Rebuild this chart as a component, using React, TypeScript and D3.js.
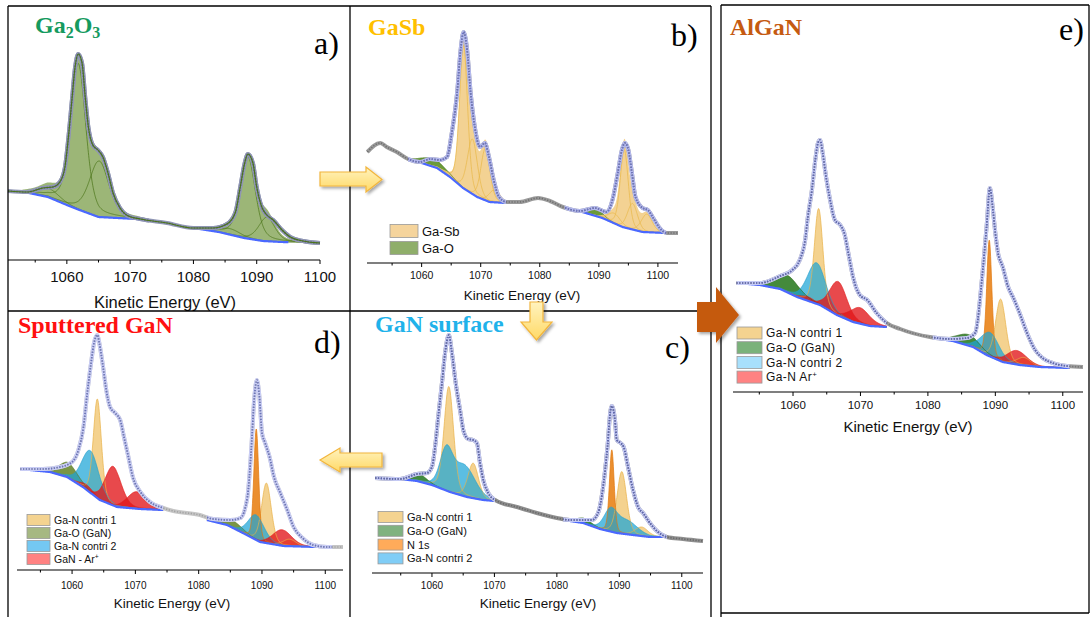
import React from "react";
import * as d3 from "d3";

type Pt = [number, number];
type Peak = { g: string; c: number; h: number; w: number };

// ---------------- shared axis data ----------------
const MAJOR_TICKS = [1060, 1070, 1080, 1090, 1100];
const MINOR_TICKS = [1055, 1065, 1075, 1085, 1095];
const AXIS_TITLE = "Kinetic Energy (eV)";

// ---------------- panel a : Ga2O3 ----------------
const A_DATA: Pt[] = [
  [1050.7, 69], [1053.7, 68], [1056.2, 72], [1057.8, 73], [1058.9, 78], [1059.7, 93], [1060.2, 120],
  [1060.8, 160], [1061.3, 193], [1061.8, 206], [1062.4, 197], [1062.9, 163], [1063.4, 133], [1064.1, 115],
  [1064.9, 110], [1065.7, 103], [1066.5, 87], [1067.3, 67], [1068.4, 52], [1069.7, 44], [1071.6, 41],
  [1075.8, 37], [1080, 32], [1083.1, 32], [1085.3, 36], [1086.6, 47], [1087.4, 73], [1088.1, 97],
  [1088.6, 106], [1089.4, 97], [1090, 73], [1090.8, 53], [1091.6, 45], [1092.6, 40], [1094, 30],
  [1095.3, 23], [1097.3, 19], [1100, 17],
];
const A_BG: Pt[] = [
  [1050.7, 69], [1054, 67], [1057, 63], [1060, 55], [1062, 50], [1065, 43], [1068, 42], [1071, 41],
  [1075, 37], [1080, 32], [1084, 28], [1088, 22], [1091, 19], [1094, 18], [1100, 17],
];
const A_PEAKS: Peak[] = [
  { g: "GaO", c: 1057.2, h: 9, w: 4 },
  { g: "GaO", c: 1061.8, h: 146, w: 2.8 },
  { g: "GaO", c: 1065.1, h: 56, w: 3.6 },
  { g: "GaO", c: 1085.8, h: 6, w: 4 },
  { g: "GaO", c: 1088.6, h: 82, w: 2.8 },
  { g: "GaO", c: 1091.6, h: 24, w: 3 },
];
const A_RANGES: Pt[] = [[1053, 1073], [1080, 1100]];

// ---------------- panel b : GaSb ----------------
const B_DATA: Pt[] = [
  [1050.8, 111], [1053, 120], [1054.1, 116], [1055.8, 111], [1057.7, 104], [1059.7, 101], [1061.4, 104],
  [1063.1, 103], [1064.3, 106], [1065.1, 130], [1066, 170], [1066.6, 213], [1067.1, 231], [1067.7, 213],
  [1068.3, 170], [1069, 136], [1069.9, 116], [1070.7, 120], [1071.4, 106], [1072.2, 83], [1073.1, 66],
  [1074.4, 61], [1076.6, 61], [1079.7, 65], [1081.7, 62], [1083.9, 56], [1086.8, 52], [1089.3, 55],
  [1091.3, 51], [1092.3, 63], [1093.2, 90], [1093.9, 113], [1094.4, 120], [1095, 113], [1095.6, 90],
  [1096.2, 66], [1097.4, 55], [1098.3, 53], [1099.1, 46], [1100.3, 35], [1101.5, 30], [1103.4, 30],
];
const B_BG: Pt[] = [
  [1057.7, 103], [1060, 100], [1062.6, 95], [1064.8, 86], [1067, 75], [1069.4, 66], [1071.5, 61],
  [1074.3, 60], [1084.2, 55], [1087.2, 51], [1090.6, 45], [1094, 36], [1097.4, 31], [1101.4, 30],
];
const B_PEAKS: Peak[] = [
  { g: "GaO", c: 1062, h: 8, w: 5 },
  { g: "GaO", c: 1089.3, h: 8, w: 3 },
  { g: "GaSb", c: 1067.1, h: 143, w: 1.6 },
  { g: "GaSb", c: 1068.6, h: 55, w: 2 },
  { g: "GaSb", c: 1070.8, h: 52, w: 1.8 },
  { g: "GaSb", c: 1072.2, h: 12, w: 2 },
  { g: "GaSb", c: 1092.6, h: 10, w: 2.5 },
  { g: "GaSb", c: 1094.3, h: 78, w: 1.6 },
  { g: "GaSb", c: 1095.7, h: 26, w: 2 },
  { g: "GaSb", c: 1098.1, h: 18, w: 2.2 },
];
const B_RANGES: Pt[] = [[1057.7, 1074.3], [1084.2, 1101.4]];
const B_LEGEND = ["Ga-Sb", "Ga-O"];

// ---------------- panel c : GaN surface ----------------
const C_DATA: Pt[] = [
  [1050.9, 95], [1054.9, 94], [1057.6, 99], [1059.2, 100], [1060, 106], [1060.5, 126], [1061, 156],
  [1061.6, 190], [1062.1, 220], [1062.7, 238], [1063.2, 220], [1063.8, 190], [1064.5, 163], [1065.1, 141],
  [1065.8, 134], [1066.6, 133], [1067.2, 130], [1067.7, 110], [1068.3, 91], [1069, 80], [1070.1, 73],
  [1073.6, 66], [1076.8, 60], [1080, 55], [1082.1, 53], [1084.2, 53], [1085.6, 53], [1086.6, 60],
  [1087.4, 86], [1088.1, 126], [1088.6, 163], [1088.8, 167], [1089.3, 153], [1089.6, 133], [1090.2, 130],
  [1090.7, 126], [1091.4, 106], [1092.2, 83], [1093, 66], [1093.8, 60], [1094.9, 50], [1096.2, 41],
  [1097.6, 36], [1100.2, 34], [1103.4, 32],
];
const C_BG: Pt[] = [
  [1050.9, 95], [1054.9, 94], [1057.6, 92], [1060, 88], [1062.9, 81], [1065.6, 76], [1068.2, 73],
  [1070.1, 72], [1081, 53], [1084.2, 50], [1086.9, 44], [1089.6, 40], [1092.2, 38], [1094.9, 36], [1097.6, 36],
];
const C_PEAKS: Peak[] = [
  { g: "GaN1", c: 1062.7, h: 105, w: 1.8 },
  { g: "GaN1", c: 1066.6, h: 35, w: 2 },
  { g: "GaN1", c: 1090.4, h: 62, w: 1.8 },
  { g: "GaN1", c: 1093.6, h: 9, w: 2.5 },
  { g: "GaO", c: 1057.8, h: 8, w: 3 },
  { g: "GaO", c: 1084.3, h: 5, w: 3 },
  { g: "N1s", c: 1088.8, h: 82, w: 0.9 },
  { g: "GaN2", c: 1062.3, h: 38, w: 2.4 },
  { g: "GaN2", c: 1065.2, h: 30, w: 4 },
  { g: "GaN2", c: 1088.6, h: 20, w: 2.5 },
  { g: "GaN2", c: 1091.2, h: 13, w: 4 },
];
const C_RANGES: Pt[] = [[1050.9, 1070.1], [1081, 1097.6]];
const C_LEGEND = ["Ga-N contri 1", "Ga-O (GaN)", "N 1s", "Ga-N contri 2"];

// ---------------- panel d : Sputtered GaN ----------------
const D_DATA: Pt[] = [
  [1051.8, 101], [1055.4, 101], [1058.1, 103], [1060, 108], [1061, 120], [1061.8, 143], [1062.4, 177],
  [1063, 207], [1063.5, 228], [1064, 235], [1064.3, 227], [1064.9, 203], [1065.4, 180], [1066, 163],
  [1066.8, 157], [1067.6, 150], [1068.2, 133], [1068.9, 113], [1069.6, 93], [1070.8, 78], [1072.3, 68],
  [1074.4, 62], [1076, 59], [1080.2, 55], [1082.3, 51], [1085, 50], [1086.6, 52], [1087.7, 73],
  [1088.3, 120], [1088.8, 173], [1089.2, 190], [1089.6, 173], [1090, 137], [1090.5, 127], [1091.2, 113],
  [1091.9, 93], [1092.9, 77], [1094, 60], [1095, 43], [1096.4, 32], [1098.1, 25], [1100.3, 23], [1102.8, 23],
];
const D_BG: Pt[] = [
  [1051.8, 101], [1056.5, 98], [1059.2, 93], [1061.7, 83], [1064.4, 70], [1067.1, 63], [1070.8, 61],
  [1074.4, 60], [1081.3, 50], [1084.5, 45], [1087.6, 35], [1089.7, 28], [1093.4, 24], [1098.7, 23], [1101.1, 23],
];
const D_PEAKS: Peak[] = [
  { g: "GaN1", c: 1064.0, h: 99, w: 1.5 },
  { g: "GaN1", c: 1090.7, h: 60, w: 1.8 },
  { g: "GaN1", c: 1094.3, h: 7, w: 2.5 },
  { g: "GaO", c: 1059.4, h: 15, w: 3.5 },
  { g: "GaO", c: 1085.5, h: 7, w: 3.5 },
  { g: "N1s", c: 1089.1, h: 111, w: 0.9 },
  { g: "GaN2", c: 1062.9, h: 42, w: 3.2 },
  { g: "GaN2", c: 1089.1, h: 25, w: 3 },
  { g: "Ar", c: 1062.3, h: 5, w: 2.5 },
  { g: "Ar", c: 1066.5, h: 39, w: 3 },
  { g: "Ar", c: 1070.2, h: 17, w: 3.5 },
  { g: "Ar", c: 1093.2, h: 16, w: 3.5 },
];
const D_RANGES: Pt[] = [[1051.8, 1074.4], [1081.3, 1101.1]];
const D_LEGEND = ["Ga-N contri 1", "Ga-O (GaN)", "Ga-N contri 2", "GaN - Ar^+"];

// ---------------- panel e : AlGaN ----------------
const E_DATA: Pt[] = [
  [1051.6, 109], [1055.1, 109], [1058.1, 116], [1059.9, 122], [1061, 132], [1061.8, 152], [1062.2, 175],
  [1062.8, 202], [1063.3, 232], [1063.7, 249], [1064, 252], [1064.4, 239], [1064.9, 215], [1065.5, 192],
  [1066.2, 172], [1067, 167], [1067.6, 159], [1068.2, 139], [1068.9, 115], [1069.9, 97], [1071, 92],
  [1072.4, 79], [1073.9, 69], [1075.9, 63], [1080.3, 55], [1083.3, 53], [1085.8, 54], [1087, 59],
  [1088.1, 119], [1088.7, 165], [1089.2, 204], [1089.6, 185], [1090, 159], [1090.4, 139], [1091.1, 125],
  [1091.9, 105], [1092.6, 95], [1093.6, 79], [1094.7, 59], [1095.9, 42], [1097, 34], [1098.5, 29],
  [1100.6, 26], [1103, 25],
];
const E_BG: Pt[] = [
  [1051.6, 109], [1055.1, 107], [1058.1, 103], [1060.6, 95], [1064, 87], [1066.5, 77], [1068.9, 70],
  [1071.4, 66], [1073.9, 65], [1080.7, 54], [1083.7, 51], [1086.7, 45], [1088.7, 37], [1091.1, 30],
  [1093.6, 27], [1096.6, 25], [1101, 24],
];
const E_PEAKS: Peak[] = [
  { g: "GaN1", c: 1063.8, h: 96, w: 1.5 },
  { g: "GaN1", c: 1090.8, h: 62, w: 1.8 },
  { g: "GaN1", c: 1094.2, h: 8, w: 2.5 },
  { g: "GaO", c: 1059.2, h: 17, w: 4 },
  { g: "GaO", c: 1086.0, h: 11, w: 4 },
  { g: "N1s", c: 1089.1, h: 116, w: 0.9 },
  { g: "GaN2", c: 1063.5, h: 41, w: 3.2 },
  { g: "GaN2", c: 1089.2, h: 24, w: 3.2 },
  { g: "Ar", c: 1062.2, h: 4, w: 2.5 },
  { g: "Ar", c: 1066.7, h: 34, w: 3 },
  { g: "Ar", c: 1069.9, h: 16, w: 3.5 },
  { g: "Ar", c: 1093.2, h: 14, w: 3.5 },
];
const E_RANGES: Pt[] = [[1051.6, 1073.9], [1080.7, 1101]];
const E_LEGEND = ["Ga-N contri 1", "Ga-O (GaN)", "Ga-N contri 2", "Ga-N Ar^+"];

// ---------------- styles & layout ----------------
const SERIF = "'Liberation Serif','Times New Roman',serif";
const SANS = "'Liberation Sans',Arial,sans-serif";

type GStyle = { fill: string; stroke: string; swatch: string };
const GOLD: GStyle = { fill: "rgba(240,193,100,0.72)", stroke: "#e9b24a", swatch: "#f4d390" };
const BLUE: GStyle = { fill: "rgba(28,165,215,0.72)", stroke: "#2aa0cc", swatch: "#80cdf6" };
const RED: GStyle = { fill: "rgba(226,22,26,0.78)", stroke: "#e0201e", swatch: "#ff8282" };
const ORANGE: GStyle = { fill: "rgba(232,128,18,0.88)", stroke: "#e07810", swatch: "#ffab5a" };

type Layout = {
  x0: number; x1: number; xDomain: Pt; axisY: number; topY: number;
  tickFont: number; tickY: number; titleFont: number; titleY: number; titleX: number;
  label: { text: string; x: number; y: number; color: string };
  letter: { text: string; x: number; y: number };
  legend?: { x: number; y0: number; dy: number; w: number; h: number; font: number; spacing: number };
};

type PanelCfg = {
  id: string; data: Pt[]; bg: Pt[]; peaks: Peak[]; ranges: Pt[]; eta: number;
  order: string[]; sumGroups: string[]; styles: Record<string, GStyle>;
  legendKeys: string[]; legendLabels: string[]; layout: Layout;
  dataBand: string; dataDash: string; fitBand: string; fitDash: string; bgRanges: Pt[];
  envelope?: string;
};

const PANELS: PanelCfg[] = [
  {
    id: "a", data: A_DATA, bg: A_BG, peaks: A_PEAKS, ranges: A_RANGES, eta: 0.4,
    order: ["GaO"], sumGroups: ["GaO"],
    styles: { GaO: { fill: "#9cb677", stroke: "#4a7418", swatch: "#9cb677" } },
    legendKeys: [], legendLabels: [],
    dataBand: "#9096b4", dataDash: "#6c7094", fitBand: "#9096b4", fitDash: "#6c7094",
    bgRanges: [[1053.5, 1071.5], [1081, 1095]], envelope: "#4a7418",
    layout: {
      x0: 8, x1: 320, xDomain: [1050.7, 1100], axisY: 260, topY: 6,
      tickFont: 15, tickY: 282, titleFont: 16.5, titleY: 308, titleX: 165,
      label: { text: "Ga2O3", x: 35, y: 33, color: "#159a5e" },
      letter: { text: "a)", x: 314, y: 54 },
    },
  },
  {
    id: "b", data: B_DATA, bg: B_BG, peaks: B_PEAKS, ranges: B_RANGES, eta: 0.25,
    order: ["GaO", "GaSb"], sumGroups: ["GaSb"],
    styles: {
      GaSb: { fill: "rgba(242,205,135,0.9)", stroke: "#e9b849", swatch: "#f5d49c" },
      GaO: { fill: "#6b9a3a", stroke: "#4a7a1c", swatch: "#8fae6a" },
    },
    legendKeys: ["GaSb", "GaO"], legendLabels: B_LEGEND,
    dataBand: "#9a9a9a", dataDash: "#707070", fitBand: "#b4b9ee", fitDash: "#6c74c4",
    bgRanges: B_RANGES,
    layout: {
      x0: 367, x1: 678, xDomain: [1050.75, 1103.4], axisY: 263, topY: 6,
      tickFont: 10.5, tickY: 279, titleFont: 13.5, titleY: 300, titleX: 522,
      label: { text: "GaSb", x: 368, y: 35, color: "#ffc000" },
      letter: { text: "b)", x: 671, y: 46 },
      legend: { x: 390, y0: 231, dy: 17, w: 28, h: 13, font: 13, spacing: 0 },
    },
  },
  {
    id: "c", data: C_DATA, bg: C_BG, peaks: C_PEAKS, ranges: C_RANGES, eta: 0.25,
    order: ["GaN1", "GaO", "N1s", "GaN2"], sumGroups: ["GaN2"],
    styles: {
      GaN1: GOLD, GaO: { fill: "rgba(40,122,38,0.88)", stroke: "#2f6e20", swatch: "#80b280" },
      N1s: ORANGE, GaN2: BLUE,
    },
    legendKeys: ["GaN1", "GaO", "N1s", "GaN2"], legendLabels: C_LEGEND,
    dataBand: "#8e8e8e", dataDash: "#6a6a6a", fitBand: "#c4c9f4", fitDash: "#5d67b4",
    bgRanges: C_RANGES,
    layout: {
      x0: 372, x1: 703, xDomain: [1050.4, 1103.4], axisY: 573, topY: 312,
      tickFont: 10, tickY: 589, titleFont: 13.5, titleY: 608, titleX: 538,
      label: { text: "GaN surface", x: 375, y: 332, color: "#1fb2ea" },
      letter: { text: "c)", x: 665, y: 358 },
      legend: { x: 378, y0: 517, dy: 13.8, w: 25, h: 11, font: 11, spacing: 0 },
    },
  },
  {
    id: "d", data: D_DATA, bg: D_BG, peaks: D_PEAKS, ranges: D_RANGES, eta: 0.25,
    order: ["GaN1", "GaO", "N1s", "GaN2", "Ar"], sumGroups: [],
    styles: {
      GaN1: GOLD, GaO: { fill: "rgba(104,134,44,0.88)", stroke: "#5a7a26", swatch: "#a6b882" },
      N1s: ORANGE, GaN2: { ...BLUE, swatch: "#74c8f2" }, Ar: RED,
    },
    legendKeys: ["GaN1", "GaO", "GaN2", "Ar"], legendLabels: D_LEGEND,
    dataBand: "#c6c6c6", dataDash: "#a4a4a4", fitBand: "#c9cdf5", fitDash: "#6a74bc",
    bgRanges: D_RANGES,
    layout: {
      x0: 17, x1: 343, xDomain: [1051.3, 1102.8], axisY: 570, topY: 311,
      tickFont: 10, tickY: 589, titleFont: 13.5, titleY: 608, titleX: 172,
      label: { text: "Sputtered GaN", x: 18, y: 333, color: "#ff1010" },
      letter: { text: "d)", x: 314, y: 353 },
      legend: { x: 27, y0: 520, dy: 13, w: 23, h: 11, font: 10.5, spacing: 0 },
    },
  },
  {
    id: "e", data: E_DATA, bg: E_BG, peaks: E_PEAKS, ranges: E_RANGES, eta: 0.25,
    order: ["GaN1", "GaO", "N1s", "GaN2", "Ar"], sumGroups: [],
    styles: {
      GaN1: GOLD, GaO: { fill: "rgba(42,122,32,0.88)", stroke: "#2e6a1c", swatch: "#7ab27a" },
      N1s: ORANGE, GaN2: { ...BLUE, swatch: "#a8e0fc" }, Ar: RED,
    },
    legendKeys: ["GaN1", "GaO", "GaN2", "Ar"], legendLabels: E_LEGEND,
    dataBand: "#9c9c9c", dataDash: "#777777", fitBand: "#c6cbf5", fitDash: "#5d67b4",
    bgRanges: E_RANGES,
    layout: {
      x0: 733, x1: 1083, xDomain: [1051.1, 1103], axisY: 392, topY: 6,
      tickFont: 11.5, tickY: 409, titleFont: 15, titleY: 432, titleX: 908,
      label: { text: "AlGaN", x: 730, y: 35, color: "#c55a11" },
      letter: { text: "e)", x: 1059, y: 40 },
      legend: { x: 737, y0: 333, dy: 14.7, w: 25, h: 12, font: 12, spacing: 0.4 },
    },
  },
];

// ---------------- rendering ----------------
function Title({ text, x, y, color }: { text: string; x: number; y: number; color: string }) {
  const parts = text.match(/[0-9]+|[^0-9]+/g) || [text];
  return (
    <text x={x} y={y} fill={color} fontFamily={SERIF} fontWeight="bold" fontSize={24}>
      {parts.map((p, i) =>
        /^[0-9]+$/.test(p) ? (
          <tspan key={i} fontSize={16} dy={5}>{p}</tspan>
        ) : (
          <tspan key={i} dy={i > 0 ? -5 : 0}>{p}</tspan>
        )
      )}
    </text>
  );
}

function Panel({ cfg }: { cfg: PanelCfg }) {
  const L = cfg.layout;
  const xs = d3.scaleLinear().domain(L.xDomain).range([L.x0, L.x1]);
  const ys = d3.scaleLinear().domain([0, L.axisY - L.topY]).range([L.axisY, L.topY]);
  const bgf = d3.scaleLinear().domain(cfg.bg.map((d) => d[0])).range(cfg.bg.map((d) => d[1]));
  const eta = cfg.eta;
  const pv = (e: number, p: Peak) => {
    const u = ((e - p.c) / p.w) ** 2;
    return p.h * (eta / (1 + 4 * u) + (1 - eta) * Math.exp(-4 * Math.LN2 * u));
  };
  const rangeOf = (c: number) => cfg.ranges.find((r) => c >= r[0] && c <= r[1]) || cfg.ranges[0];
  const grid = (r: Pt) => {
    const s = d3.range(r[0], r[1], 0.05);
    s.push(r[1]);
    return s;
  };
  const areaPath = (r: Pt, f: (e: number) => number) =>
    d3.area<number>().x((e) => xs(e)).y0((e) => ys(bgf(e))).y1((e) => ys(bgf(e) + f(e)))(grid(r)) || "";
  const linePath = (r: Pt, f: (e: number) => number) =>
    d3.line<number>().x((e) => xs(e)).y((e) => ys(bgf(e) + f(e)))(grid(r)) || "";
  const dataPath =
    d3.line<Pt>().x((d) => xs(d[0])).y((d) => ys(d[1])).curve(d3.curveMonotoneX)(cfg.data) || "";

  const fills: React.ReactNode[] = [];
  const strokes: React.ReactNode[] = [];
  cfg.order.forEach((g) => {
    const st = cfg.styles[g];
    const ps = cfg.peaks.filter((p) => p.g === g);
    const summed = cfg.sumGroups.includes(g);
    if (summed) {
      cfg.ranges.forEach((r, ri) => {
        const inR = ps.filter((p) => p.c >= r[0] && p.c <= r[1]);
        if (!inR.length) return;
        const f = (e: number) => d3.sum(inR, (p) => pv(e, p));
        fills.push(<path key={`s${g}${ri}`} d={areaPath(r, f)} fill={st.fill} />);
        if (cfg.id !== "a" && cfg.id !== "b") {
          strokes.push(
            <path key={`sl${g}${ri}`} d={linePath(r, f)} fill="none" stroke={st.stroke}
              strokeWidth={0.8} strokeOpacity={0.9} />
          );
        }
      });
    } else {
      ps.forEach((p, i) => {
        fills.push(<path key={`f${g}${i}`} d={areaPath(rangeOf(p.c), (e) => pv(e, p))} fill={st.fill} />);
      });
    }
    if (!summed || cfg.id === "a" || cfg.id === "b") {
      ps.forEach((p, i) => {
        strokes.push(
          <path key={`l${g}${i}`} d={linePath(rangeOf(p.c), (e) => pv(e, p))} fill="none"
            stroke={st.stroke} strokeWidth={0.8} strokeOpacity={0.9} />
        );
      });
    }
  });

  const clipId = `fit-${cfg.id}`;
  const lg = L.legend;

  return (
    <g>
      <defs>
        <clipPath id={clipId}>
          {cfg.ranges.map((r, i) => (
            <rect key={i} x={xs(r[0])} y={L.topY} width={xs(r[1]) - xs(r[0])} height={L.axisY - L.topY} />
          ))}
        </clipPath>
      </defs>
      {fills}
      {strokes}
      {cfg.bgRanges.map((r, i) => (
        <path key={`bg${i}`} d={d3.line<number>().x((e) => xs(e)).y((e) => ys(bgf(e)))(grid(r)) || ""}
          fill="none" stroke="#4a68ff" strokeWidth={2.2} />
      ))}
      <path d={dataPath} fill="none" stroke={cfg.dataBand} strokeWidth={4} strokeLinejoin="round" />
      <path d={dataPath} fill="none" stroke={cfg.fitBand} strokeWidth={4} clipPath={`url(#${clipId})`} />
      <path d={dataPath} fill="none" stroke={cfg.dataDash} strokeWidth={1.7} strokeDasharray="1.3 1.5" />
      <path d={dataPath} fill="none" stroke={cfg.fitDash} strokeWidth={1.7} strokeDasharray="1.3 1.5"
        clipPath={`url(#${clipId})`} />
      {cfg.envelope && <path d={dataPath} fill="none" stroke={cfg.envelope} strokeWidth={1.1} />}

      {/* axis */}
      <line x1={L.x0} x2={L.x1} y1={L.axisY} y2={L.axisY} stroke="#000" strokeWidth={1.2} />
      {MAJOR_TICKS.map((t) => (
        <g key={`M${t}`}>
          <line x1={xs(t)} x2={xs(t)} y1={L.axisY} y2={L.axisY + 4} stroke="#000" strokeWidth={1} />
          <text x={xs(t)} y={L.tickY} textAnchor="middle" fontFamily={SANS} fontSize={L.tickFont} fill="#111">
            {t}
          </text>
        </g>
      ))}
      {MINOR_TICKS.filter((t) => t > L.xDomain[0] && t < L.xDomain[1]).map((t) => (
        <line key={`m${t}`} x1={xs(t)} x2={xs(t)} y1={L.axisY} y2={L.axisY + 2.5} stroke="#000" strokeWidth={1} />
      ))}
      <text x={L.titleX} y={L.titleY} textAnchor="middle" fontFamily={SANS} fontSize={L.titleFont} fill="#111">
        {AXIS_TITLE}
      </text>

      {/* legend */}
      {lg &&
        cfg.legendKeys.map((k, i) => {
          const [main, sup] = cfg.legendLabels[i].split("^");
          const cy = lg.y0 + i * lg.dy;
          return (
            <g key={k}>
              <rect x={lg.x} y={cy - lg.h / 2} width={lg.w} height={lg.h} fill={cfg.styles[k].swatch}
                stroke="#9a9a9a" strokeWidth={0.8} />
              <text x={lg.x + lg.w + 4} y={cy + lg.font * 0.36} fontFamily={SANS} fontSize={lg.font}
                letterSpacing={lg.spacing} fill="#111">
                {main}
                {sup && (
                  <tspan fontSize={lg.font * 0.65} dy={-lg.font * 0.4}>{sup}</tspan>
                )}
              </text>
            </g>
          );
        })}

      <Title text={L.label.text} x={L.label.x} y={L.label.y} color={L.label.color} />
      <text x={L.letter.x} y={L.letter.y} fontFamily={SERIF} fontSize={32} fill="#000">
        {L.letter.text}
      </text>
    </g>
  );
}

const ARROWS_YELLOW: string[] = [
  "320,172 366,172 366,167 382,179.5 366,192 366,186 320,186",
  "530,302 543,302 543,322 552,322 536.5,340 521,322 530,322",
  "382,453 340,453 340,448 320,460 340,472 340,467 382,467",
];
const ARROW_ORANGE = "697,302 716,302 716,287 739,315 716,343 716,332 697,332";

export default function App() {
  return (
    <svg width={1092} height={617} style={{ position: "absolute", left: 0, top: 0, background: "#fff" }}>
      <defs>
        <linearGradient id="yel" x1="0" y1="0" x2="0" y2="1">
          <stop offset="0" stopColor="#fff3bf" />
          <stop offset="1" stopColor="#ffd966" />
        </linearGradient>
        <filter id="shadow" x="-30%" y="-30%" width="160%" height="160%">
          <feDropShadow dx={2} dy={2} stdDeviation={1.5} floodColor="#000" floodOpacity={0.35} />
        </filter>
      </defs>
      <rect x={0} y={0} width={1092} height={617} fill="#fff" />
      {PANELS.map((p) => (
        <Panel key={p.id} cfg={p} />
      ))}
      {/* frames */}
      <g stroke="#000" strokeWidth={1.3} fill="none">
        <line x1={8} x2={711} y1={6} y2={6} />
        <line x1={8} x2={8} y1={6} y2={617} />
        <line x1={350} x2={350} y1={6} y2={617} />
        <line x1={711} x2={711} y1={6} y2={617} />
        <line x1={8} x2={711} y1={311} y2={311} />
        <line x1={721} x2={1089} y1={5} y2={5} />
        <line x1={721} x2={721} y1={5} y2={617} />
        <line x1={1089} x2={1089} y1={5} y2={613} />
        <line x1={721} x2={1089} y1={613} y2={613} />
      </g>
      {ARROWS_YELLOW.map((pts, i) => (
        <polygon key={i} points={pts} fill="url(#yel)" stroke="#f2b53c" strokeWidth={1.2} filter="url(#shadow)" />
      ))}
      <polygon points={ARROW_ORANGE} fill="#c55a11" filter="url(#shadow)" />
    </svg>
  );
}
